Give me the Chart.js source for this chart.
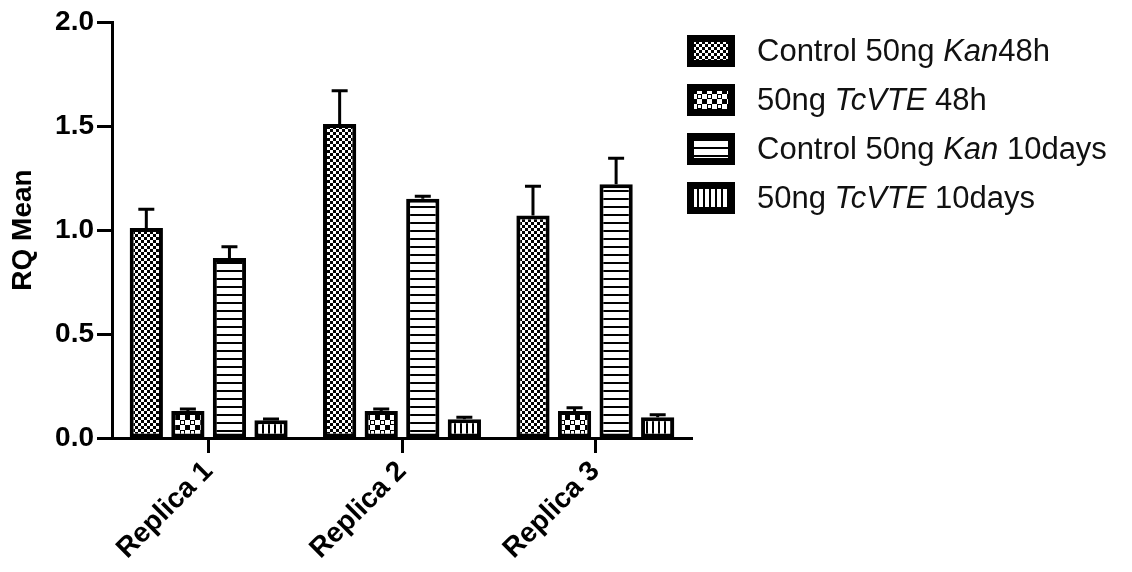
<!DOCTYPE html>
<html>
<head>
<meta charset="utf-8">
<script src="https://cdn.jsdelivr.net/npm/chart.js@4"></script>
<style>
  html, body { margin: 0; padding: 0; background: #fff; }
  #wrap { position: relative; width: 1132px; height: 572px; }
  #c { position: absolute; left: 0; top: 0; }
  #legend { position: absolute; left: 687px; top: 26px; font-family: "Liberation Sans", Arial, sans-serif; font-size: 31px; color: #111; }
  .row { display: flex; align-items: center; height: 49px; }
  .row canvas { width: 48px; height: 32px; margin-right: 22px; }
  .row span { white-space: nowrap; }
</style>
</head>
<body>
<div id="wrap">
  <canvas id="c" width="1132" height="572"></canvas>
  <div id="legend"></div>
</div>
<script>
const categories = ['Replica 1', 'Replica 2', 'Replica 3'];
const seriesNames = ['Control 50ng <i>Kan</i>48h', '50ng <i>TcVTE</i> 48h', 'Control 50ng <i>Kan</i> 10days', '50ng <i>TcVTE</i> 10days'];
const control48h = [1.01, 1.51, 1.07];
const control48hErr = [0.09, 0.16, 0.14];
const tcvte48h = [0.13, 0.13, 0.13];
const tcvte48hErr = [0.01, 0.01, 0.015];
const control10d = [0.865, 1.15, 1.22];
const control10dErr = [0.055, 0.012, 0.125];
const tcvte10d = [0.085, 0.09, 0.10];
const tcvte10dErr = [0.006, 0.01, 0.012];
const yTicks = [0, 0.5, 1.0, 1.5, 2.0];

function makeTile(w, h, draw) {
  const t = document.createElement('canvas');
  t.width = w; t.height = h;
  const g = t.getContext('2d');
  draw(g);
  return t;
}
const tiles = [
  makeTile(6, 6, g => { g.fillStyle = '#000'; g.fillRect(0,0,6,6); g.fillStyle = '#fff'; g.fillRect(0,0,3,3); g.fillRect(3,3,3,3); }),
  makeTile(10, 10, g => { g.fillStyle = '#fff'; g.fillRect(0,0,10,10); g.fillStyle = '#000'; g.fillRect(0,0,5,5); g.fillRect(5,5,5,5); g.fillStyle = '#fff'; g.fillRect(1,1,3,3); }),
  makeTile(8, 8, g => { g.fillStyle = '#fff'; g.fillRect(0,0,8,8); g.fillStyle = '#000'; g.fillRect(0,6,8,2); }),
  makeTile(6, 6, g => { g.fillStyle = '#fff'; g.fillRect(0,0,6,6); g.fillStyle = '#000'; g.fillRect(4,0,2,6); })
];
const ctx = document.getElementById('c').getContext('2d');
const patterns = tiles.map(t => ctx.createPattern(t, 'repeat'));

const values = [control48h, tcvte48h, control10d, tcvte10d];
const errors = [control48hErr, tcvte48hErr, control10dErr, tcvte10dErr];

const errorBars = {
  id: 'errorBars',
  afterDatasetsDraw(chart) {
    const c = chart.ctx;
    const ys = chart.scales.y;
    c.save();
    c.strokeStyle = '#000';
    c.lineWidth = 3;
    chart.data.datasets.forEach((ds, i) => {
      const meta = chart.getDatasetMeta(i);
      meta.data.forEach((el, j) => {
        const v = ds.data[j], e = ds.errs[j];
        const yTop = ys.getPixelForValue(v + e);
        c.beginPath();
        c.moveTo(el.x, el.y);
        c.lineTo(el.x, yTop);
        c.moveTo(el.x - 8, yTop);
        c.lineTo(el.x + 8, yTop);
        c.stroke();
      });
    });
    c.restore();
  }
};

const font = { family: '"Liberation Sans", Arial, sans-serif', size: 28, weight: 'bold' };

new Chart(ctx, {
  type: 'bar',
  data: {
    labels: categories,
    datasets: values.map((v, i) => ({
      label: seriesNames[i],
      data: v,
      errs: errors[i],
      backgroundColor: patterns[i],
      borderColor: '#000',
      borderWidth: 4,
      borderSkipped: false,
      categoryPercentage: 0.86,
      barPercentage: 0.8
    }))
  },
  options: {
    responsive: false,
    animation: false,
    devicePixelRatio: 1,
    layout: { padding: { left: 0, top: 22, right: 440, bottom: 0 } },
    plugins: { legend: { display: false }, tooltip: { enabled: false } },
    scales: {
      x: {
        grid: { display: true, drawOnChartArea: false, offset: false, tickLength: 15, tickWidth: 3, tickColor: '#000' },
        border: { display: true, color: '#000', width: 3 },
        ticks: { color: '#000', font: font, minRotation: 45, maxRotation: 45, padding: 2 },
        afterFit(s) { s.height = 134; }
      },
      y: {
        min: 0, max: 2,
        afterBuildTicks(s) { s.ticks = yTicks.map(v => ({ value: v })); },
        grid: { display: true, drawOnChartArea: false, tickLength: 15, tickWidth: 3, tickColor: '#000' },
        border: { display: true, color: '#000', width: 3 },
        ticks: { color: '#000', font: font, padding: 3, callback: v => Number(v).toFixed(1) },
        title: { display: true, text: 'RQ Mean', color: '#000', font: font, padding: { top: 6, bottom: 4 } },
        afterFit(s) { s.width = 112; }
      }
    }
  },
  plugins: [errorBars]
});

const legend = document.getElementById('legend');
seriesNames.forEach((name, i) => {
  const row = document.createElement('div');
  row.className = 'row';
  const sw = document.createElement('canvas');
  sw.width = 48; sw.height = 32;
  const g = sw.getContext('2d');
  g.fillStyle = '#000'; g.fillRect(0, 0, 48, 32);
  g.fillStyle = g.createPattern(tiles[i], 'repeat');
  g.fillRect(7, 7, 34, 18);
  const sp = document.createElement('span');
  sp.innerHTML = name;
  row.appendChild(sw); row.appendChild(sp);
  legend.appendChild(row);
});
</script>
</body>
</html>
